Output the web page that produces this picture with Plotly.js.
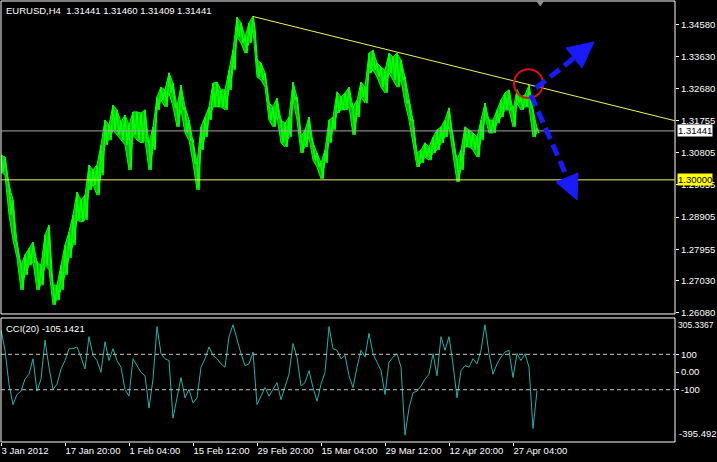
<!DOCTYPE html>
<html>
<head>
<meta charset="utf-8">
<script src="https://cdn.plot.ly/plotly-3.0.1.min.js"></script>
<style>
html,body{margin:0;padding:0;background:#000;}
#chart{width:717px;height:462px;}
</style>
</head>
<body>
<div id="chart"></div>
<script>
// ---------- DATA (EURUSD H4, sampled every 4 bars) ----------
const priceHigh = [
1.3073,1.3067,1.2985,1.2941,1.2814,1.2749,1.2779,1.2799,1.2817,1.2758,
1.2749,1.2838,1.2867,1.2690,1.2690,1.2749,1.2808,1.2847,1.2897,1.2964,
1.2941,1.2955,1.3044,1.3029,1.3044,1.3103,1.3176,1.3162,1.3220,1.3206,
1.3170,1.3191,1.3162,1.3200,1.3200,1.3197,1.3206,1.3109,1.3156,1.3244,
1.3273,1.3265,1.3315,1.3285,1.3215,1.3279,1.3215,1.3176,1.3117,1.3050,
1.3156,1.3185,1.3215,1.3285,1.3288,1.3265,1.3265,1.3323,1.3382,1.3479,
1.3462,1.3421,1.3462,1.3482,1.3353,1.3344,1.3315,1.3226,1.3215,1.3241,
1.3176,1.3167,1.3185,1.3288,1.3244,1.3126,1.3147,1.3185,1.3109,1.3079,
1.3050,1.3088,1.3176,1.3185,1.3259,1.3244,1.3256,1.3273,1.3215,1.3235,
1.3288,1.3273,1.3373,1.3382,1.3344,1.3332,1.3323,1.3373,1.3362,1.3373,
1.3353,1.3303,1.3235,1.3176,1.3079,1.3088,1.3109,1.3097,1.3126,1.3147,
1.3156,1.3176,1.3212,1.3126,1.3058,1.3088,1.3156,1.3147,1.3138,1.3126,
1.3176,1.3226,1.3176,1.3176,1.3206,1.3235,1.3256,1.3265,1.3206,1.3265,
1.3244,1.3250,1.3279,1.3206,1.3153
];
const priceLow = [
1.3023,1.3014,1.2897,1.2823,1.2770,1.2676,1.2720,1.2749,1.2758,1.2676,
1.2690,1.2749,1.2735,1.2632,1.2646,1.2676,1.2720,1.2770,1.2808,1.2882,
1.2876,1.2882,1.2970,1.2985,1.2955,1.3014,1.3103,1.3117,1.3147,1.3132,
1.3117,1.3103,1.3029,1.3132,1.3117,1.3109,1.3117,1.3029,1.3088,1.3206,
1.3235,1.3215,1.3256,1.3215,1.3156,1.3206,1.3138,1.3117,1.3050,1.2970,
1.3088,1.3126,1.3176,1.3215,1.3215,1.3215,1.3206,1.3265,1.3323,1.3421,
1.3403,1.3373,1.3403,1.3441,1.3303,1.3294,1.3273,1.3176,1.3156,1.3185,
1.3109,1.3097,1.3126,1.3235,1.3176,1.3079,1.3097,1.3126,1.3058,1.3038,
1.3003,1.3050,1.3109,1.3147,1.3197,1.3206,1.3206,1.3215,1.3132,1.3185,
1.3244,1.3226,1.3315,1.3323,1.3303,1.3273,1.3256,1.3315,1.3294,1.3273,
1.3294,1.3226,1.3176,1.3109,1.3038,1.3050,1.3067,1.3058,1.3079,1.3088,
1.3109,1.3126,1.3156,1.3079,1.2994,1.3029,1.3097,1.3097,1.3088,1.3067,
1.3117,1.3185,1.3138,1.3138,1.3167,1.3185,1.3206,1.3206,1.3156,1.3226,
1.3206,1.3215,1.3215,1.3126,1.3138
];
const cciValues = [
238,123,-69,-184,-127,-108,-40,-12,75,-108,
-40,180,27,-98,-69,17,65,132,132,142,
84,17,200,94,65,-2,171,65,132,65,
27,-98,-136,75,36,-2,-21,-204,-40,257,
104,75,65,-261,-146,-31,-146,-98,-175,-146,
27,75,142,94,75,46,27,200,267,180,
104,36,46,113,-184,-136,-88,-136,-98,-60,
-156,-79,-12,161,84,-79,-60,8,-88,-165,
-69,-2,257,132,123,75,94,-21,-88,27,
123,84,219,104,56,8,-127,56,84,104,
27,-357,-204,-117,-108,-79,-40,-12,104,-21,
200,123,200,46,-146,8,36,27,75,46,
123,267,104,-12,46,84,113,123,-31,104,
65,104,27,-319,-105
];
const timeLabels = ['3 Jan 2012','17 Jan 20:00','1 Feb 04:00','15 Feb 12:00','29 Feb 20:00',
                    '15 Mar 04:00','29 Mar 12:00','12 Apr 20:00','27 Apr 04:00'];
const priceTicks = [1.34580,1.33630,1.32680,1.31755,1.30805,1.29855,1.28905,1.27955,1.27030,1.26080];
const cciTicks = [100,0,-100];
const cciTickText = ['100','0.00','-100'];
const cciLevels = [100,-100];
const cciRange = [-395.492, 305.3367];
const cciCaption = 'CCI(20) -105.1421';
const lastBar = ['1.31441','1.31460','1.31409','1.31441'];  // O H L C
const lastPrice = 1.31441;
const supportLevel = 1.30000;
const trendBars = [252, 674];
const trendPrices = [1.3481, 1.3174];

// ---------- settings ----------
const SAMPLE_STEP = 4;      // bars between samples
const BARS_PER_LABEL = 64;  // bars between time labels
const bars = priceHigh.map((_, i) => i * SAMPLE_STEP);
const labelBars = timeLabels.map((_, i) => i * BARS_PER_LABEL);

// each sample drawn as a high->low stroke (bar-chart look)
const strokeX = [], strokeY = [];
bars.forEach((b, i) => {
  strokeX.push(b, b + SAMPLE_STEP / 2);
  strokeY.push(priceHigh[i], priceLow[i]);
});

const GREEN = '#00ff00', CCI_COL = '#20b2aa', YEL = '#f2f25a', BLUE = '#1a1aff';
const FONT = 'Liberation Sans, Arial, sans-serif';
const FS = 9.5;
const mainDom = [0.2903, 1], cciDom = [0, 0.2812];

const traces = [
  {x: bars, y: priceLow, type:'scatter', mode:'lines', line:{color:GREEN, width:1},
   xaxis:'x', yaxis:'y', hoverinfo:'skip', showlegend:false},
  {x: bars, y: priceHigh, type:'scatter', mode:'lines', line:{color:GREEN, width:1},
   fill:'tonexty', fillcolor:'rgba(0,255,0,0.75)', xaxis:'x', yaxis:'y', hoverinfo:'skip', showlegend:false},
  {x: strokeX, y: strokeY, type:'scatter', mode:'lines', line:{color:GREEN, width:1.6},
   xaxis:'x', yaxis:'y', hoverinfo:'skip', showlegend:false},
  {x: bars, y: cciValues, type:'scatter', mode:'lines', line:{color:CCI_COL, width:1},
   xaxis:'x', yaxis:'y2', hoverinfo:'skip', showlegend:false}
];

// drawings made on the chart (bar index, price)
const upArrow = {from:[535,1.32704], base:[573,1.33587], tip:[593,1.34059], wingA:[565,1.33882], wingB:[581,1.33293]};
const downArrow = {from:[530,1.32498], base:[566,1.30084], tip:[576,1.29407], wingA:[555,1.29937], wingB:[577,1.30202]};
const circleBox = {bars:[513,542], prices:[1.3326,1.3241]};

function headPath(a){
  return 'M' + a.tip[0] + ',' + a.tip[1] + ' L' + a.wingA[0] + ',' + a.wingA[1] +
         ' L' + a.wingB[0] + ',' + a.wingB[1] + ' Z';
}

const shapes = [
  {type:'rect', xref:'paper', yref:'paper', x0:0, x1:1, y0:mainDom[0], y1:mainDom[1], line:{color:'#fff', width:1}},
  {type:'rect', xref:'paper', yref:'paper', x0:0, x1:1, y0:cciDom[0], y1:cciDom[1], line:{color:'#fff', width:1}},
  {type:'line', xref:'paper', yref:'y', x0:0, x1:1, y0:lastPrice, y1:lastPrice, line:{color:'#a8a8a8', width:1}},
  {type:'line', xref:'paper', yref:'y', x0:0, x1:1, y0:supportLevel, y1:supportLevel, line:{color:YEL, width:1}},
  {type:'line', xref:'x', yref:'y', x0:trendBars[0], x1:trendBars[1], y0:trendPrices[0], y1:trendPrices[1], line:{color:YEL, width:1}},
  ...cciLevels.map(v => ({type:'line', xref:'paper', yref:'y2', x0:0, x1:1, y0:v, y1:v,
      line:{color:'#c8c8c8', width:1, dash:'4px,3px'}})),
  {type:'circle', xref:'x', yref:'y', x0:circleBox.bars[0], x1:circleBox.bars[1],
   y0:circleBox.prices[0], y1:circleBox.prices[1], line:{color:'#e01010', width:2}},
  {type:'line', xref:'x', yref:'y', x0:upArrow.from[0], y0:upArrow.from[1], x1:upArrow.base[0], y1:upArrow.base[1],
   line:{color:BLUE, width:5, dash:'12px,6px'}},
  {type:'path', xref:'x', yref:'y', path:headPath(upArrow), fillcolor:BLUE, line:{color:BLUE, width:1}},
  {type:'line', xref:'x', yref:'y', x0:downArrow.from[0], y0:downArrow.from[1], x1:downArrow.base[0], y1:downArrow.base[1],
   line:{color:BLUE, width:5, dash:'12px,6px'}},
  {type:'path', xref:'x', yref:'y', path:headPath(downArrow), fillcolor:BLUE, line:{color:BLUE, width:1}},
  {type:'path', xref:'paper', yref:'paper', path:'M0.795,1 L0.805,1 L0.80,0.989 Z', fillcolor:'#909090', line:{color:'#909090', width:1}}
];

const annotations = [
  {xref:'paper', yref:'paper', x:0, y:1, xanchor:'left', yanchor:'top', xshift:3, yshift:-2, showarrow:false,
   text:'EURUSD,H4\u00a0\u00a0' + lastBar.join(' '), font:{family:FONT, size:FS, color:'#fff'}},
  {xref:'paper', yref:'paper', x:0, y:cciDom[1], xanchor:'left', yanchor:'top', xshift:3, yshift:-3, showarrow:false,
   text:cciCaption, font:{family:FONT, size:FS, color:'#fff'}},
  {xref:'paper', yref:'y', x:1, y:lastPrice, xanchor:'left', xshift:2, showarrow:false, text:lastPrice.toFixed(5),
   bgcolor:'#ffffff', font:{family:FONT, size:FS, color:'#000'}, borderpad:0},
  {xref:'paper', yref:'y', x:1, y:supportLevel, xanchor:'left', xshift:2, showarrow:false, text:supportLevel.toFixed(5),
   bgcolor:'#ffff00', font:{family:FONT, size:FS, color:'#000'}, borderpad:0},
  {xref:'paper', yref:'y2', x:1, y:cciRange[1], xanchor:'left', yanchor:'top', xshift:1, showarrow:false, text:String(cciRange[1]),
   font:{family:FONT, size:8.5, color:'#fff'}},
  {xref:'paper', yref:'y2', x:1, y:cciRange[0], xanchor:'left', yanchor:'bottom', xshift:2, yshift:1, showarrow:false, text:String(cciRange[0]),
   font:{family:FONT, size:FS, color:'#fff'}}
];

const layout = {
  width:717, height:462,
  margin:{l:1, r:42, t:1, b:20, pad:0},
  paper_bgcolor:'#000', plot_bgcolor:'#000',
  showlegend:false,
  font:{family:FONT, size:FS, color:'#fff'},
  xaxis:{domain:[0,1], anchor:'y2', range:[0,674], showgrid:false, zeroline:false, showline:false,
         tickmode:'array', tickvals:labelBars, ticktext:timeLabels, ticks:'outside', ticklen:3, tickcolor:'#fff',
         tickangle:0, ticklabelposition:'outside right', tickfont:{family:FONT, size:FS, color:'#fff'}},
  yaxis:{domain:mainDom, anchor:'x', side:'right', range:[1.26051, 1.35266], showgrid:false, zeroline:false, showline:false,
         tickmode:'array', tickvals:priceTicks, ticktext:priceTicks.map(v => v.toFixed(5)), ticks:'outside', ticklen:3,
         tickcolor:'#fff', tickfont:{family:FONT, size:FS, color:'#fff'}},
  yaxis2:{domain:cciDom, anchor:'x', side:'right', range:cciRange, showgrid:false, zeroline:false, showline:false,
         tickmode:'array', tickvals:cciTicks, ticktext:cciTickText, ticks:'outside', ticklen:3,
         tickcolor:'#fff', tickfont:{family:FONT, size:FS, color:'#fff'}},
  shapes:shapes,
  annotations:annotations
};

Plotly.newPlot('chart', traces, layout, {displayModeBar:false, staticPlot:true});
</script>
</body>
</html>
